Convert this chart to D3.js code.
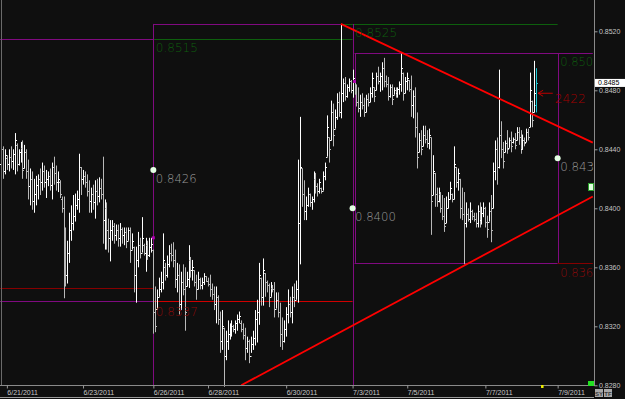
<!DOCTYPE html>
<html>
<head>
<meta charset="utf-8">
<script src="https://cdn.jsdelivr.net/npm/d3@7"></script>
<style>
  body { margin: 0; background: #0f0f0f; }
  svg { display: block; }
</style>
</head>
<body>
<svg width="625" height="399"></svg>
<script>
// bar data, one entry per bar, oldest first
var highs = [
  0.8450, 0.8442, 0.8440, 0.8436, 0.8440, 0.8442, 0.8440, 0.8451, 0.8444, 0.8440,
  0.8445, 0.8446, 0.8443, 0.8440, 0.8433, 0.8427, 0.8425, 0.8420, 0.8422, 0.8423,
  0.8427, 0.8431, 0.8429, 0.8426, 0.8425, 0.8427, 0.8431, 0.8435, 0.8429, 0.8425,
  0.8419, 0.8408, 0.8408, 0.8387, 0.8378, 0.8397, 0.8402, 0.8409, 0.8410, 0.8412,
  0.8437, 0.8428, 0.8426, 0.8425, 0.8423, 0.8419, 0.8414, 0.8416, 0.8419, 0.8420,
  0.8421, 0.8420, 0.8435, 0.8406, 0.8404, 0.8393, 0.8392, 0.8392, 0.8390, 0.8389,
  0.8389, 0.8390, 0.8387, 0.8387, 0.8387, 0.8387, 0.8387, 0.8383, 0.8374, 0.8374,
  0.8384, 0.8380, 0.8394, 0.8376, 0.8380, 0.8378, 0.8380, 0.8380, 0.8372, 0.8347,
  0.8345, 0.8353, 0.8357, 0.8383, 0.8363, 0.8368, 0.8375, 0.8376, 0.8377, 0.8372,
  0.8363, 0.8362, 0.8357, 0.8362, 0.8360, 0.8357, 0.8375, 0.8367, 0.8365, 0.8358,
  0.8355, 0.8357, 0.8353, 0.8353, 0.8356, 0.8354, 0.8353, 0.8355, 0.8349, 0.8347,
  0.8347, 0.8341, 0.8330, 0.8331, 0.8319, 0.8317, 0.8324, 0.8322, 0.8324, 0.8321,
  0.8324, 0.8328, 0.8330, 0.8324, 0.8322, 0.8319, 0.8313, 0.8311, 0.8313, 0.8317,
  0.8331, 0.8338, 0.8363, 0.8353, 0.8366, 0.8356, 0.8351, 0.8349, 0.8350, 0.8348,
  0.8350, 0.8343, 0.8343, 0.8336, 0.8326, 0.8324, 0.8333, 0.8345, 0.8340, 0.8347,
  0.8349, 0.8351, 0.8433, 0.8462, 0.8427, 0.8419, 0.8408, 0.8414, 0.8410, 0.8408,
  0.8425, 0.8424, 0.8417, 0.8420, 0.8414, 0.8425, 0.8431, 0.8463, 0.8448, 0.8473,
  0.8471, 0.8467, 0.8478, 0.8479, 0.8525, 0.8488, 0.8489, 0.8484, 0.8488, 0.8487,
  0.8494, 0.8487, 0.8484, 0.8482, 0.8477, 0.8478, 0.8475, 0.8477, 0.8478, 0.8482,
  0.8492, 0.8482, 0.8492, 0.8496, 0.8492, 0.8499, 0.8502, 0.8490, 0.8489, 0.8484,
  0.8484, 0.8482, 0.8482, 0.8482, 0.8486, 0.8505, 0.8492, 0.8489, 0.8492, 0.8487,
  0.8490, 0.8480, 0.8482, 0.8465, 0.8451, 0.8453, 0.8456, 0.8456, 0.8453, 0.8454,
  0.8448, 0.8436, 0.8424, 0.8414, 0.8414, 0.8411, 0.8409, 0.8407, 0.8408, 0.8411,
  0.8418, 0.8410, 0.8442, 0.8428, 0.8427, 0.8420, 0.8414, 0.8411, 0.8404, 0.8400,
  0.8404, 0.8399, 0.8397, 0.8397, 0.8402, 0.8404, 0.8401, 0.8404, 0.8401, 0.8395,
  0.8404, 0.8409, 0.8431, 0.8446, 0.8448, 0.8494, 0.8459, 0.8445, 0.8446, 0.8453,
  0.8448, 0.8452, 0.8448, 0.8451, 0.8455, 0.8455, 0.8453, 0.8450, 0.8448, 0.8454,
  0.8454, 0.8492, 0.8473, 0.8500, 0.8495
];
var lows = [
  0.8416, 0.8420, 0.8423, 0.8426, 0.8425, 0.8427, 0.8426, 0.8423, 0.8425, 0.8429,
  0.8431, 0.8420, 0.8427, 0.8420, 0.8406, 0.8402, 0.8399, 0.8397, 0.8402, 0.8406,
  0.8409, 0.8412, 0.8414, 0.8407, 0.8415, 0.8412, 0.8406, 0.8416, 0.8412, 0.8411,
  0.8407, 0.8397, 0.8339, 0.8347, 0.8349, 0.8363, 0.8378, 0.8385, 0.8391, 0.8399,
  0.8397, 0.8409, 0.8416, 0.8414, 0.8408, 0.8397, 0.8397, 0.8399, 0.8393, 0.8402,
  0.8404, 0.8406, 0.8376, 0.8372, 0.8372, 0.8370, 0.8364, 0.8378, 0.8376, 0.8378,
  0.8374, 0.8374, 0.8376, 0.8375, 0.8373, 0.8378, 0.8363, 0.8372, 0.8343, 0.8336,
  0.8360, 0.8366, 0.8370, 0.8368, 0.8357, 0.8365, 0.8367, 0.8370, 0.8315, 0.8316,
  0.8332, 0.8340, 0.8343, 0.8345, 0.8351, 0.8353, 0.8360, 0.8364, 0.8360, 0.8346,
  0.8343, 0.8328, 0.8331, 0.8341, 0.8317, 0.8347, 0.8346, 0.8353, 0.8351, 0.8347,
  0.8338, 0.8345, 0.8345, 0.8345, 0.8348, 0.8350, 0.8347, 0.8340, 0.8338, 0.8331,
  0.8322, 0.8321, 0.8302, 0.8304, 0.8279, 0.8297, 0.8304, 0.8311, 0.8313, 0.8316,
  0.8315, 0.8317, 0.8322, 0.8316, 0.8311, 0.8297, 0.8302, 0.8295, 0.8302, 0.8304,
  0.8307, 0.8309, 0.8321, 0.8334, 0.8334, 0.8340, 0.8343, 0.8333, 0.8340, 0.8343,
  0.8326, 0.8332, 0.8326, 0.8306, 0.8304, 0.8309, 0.8313, 0.8322, 0.8326, 0.8322,
  0.8333, 0.8338, 0.8336, 0.8362, 0.8401, 0.8392, 0.8392, 0.8401, 0.8401, 0.8399,
  0.8404, 0.8410, 0.8408, 0.8410, 0.8410, 0.8412, 0.8419, 0.8435, 0.8431, 0.8446,
  0.8442, 0.8454, 0.8460, 0.8462, 0.8461, 0.8472, 0.8473, 0.8475, 0.8479, 0.8478,
  0.8475, 0.8477, 0.8469, 0.8465, 0.8462, 0.8467, 0.8462, 0.8465, 0.8469, 0.8472,
  0.8475, 0.8472, 0.8480, 0.8484, 0.8479, 0.8480, 0.8482, 0.8482, 0.8473, 0.8475,
  0.8470, 0.8477, 0.8475, 0.8475, 0.8477, 0.8479, 0.8473, 0.8478, 0.8480, 0.8479,
  0.8462, 0.8461, 0.8448, 0.8427, 0.8438, 0.8436, 0.8442, 0.8444, 0.8441, 0.8440,
  0.8382, 0.8409, 0.8401, 0.8401, 0.8404, 0.8397, 0.8392, 0.8384, 0.8390, 0.8400,
  0.8406, 0.8404, 0.8406, 0.8414, 0.8412, 0.8393, 0.8392, 0.8362, 0.8387, 0.8391,
  0.8390, 0.8392, 0.8391, 0.8387, 0.8387, 0.8387, 0.8389, 0.8394, 0.8387, 0.8380,
  0.8391, 0.8377, 0.8400, 0.8419, 0.8416, 0.8427, 0.8434, 0.8427, 0.8438, 0.8437,
  0.8441, 0.8438, 0.8444, 0.8440, 0.8446, 0.8443, 0.8437, 0.8440, 0.8442, 0.8445,
  0.8446, 0.8455, 0.8455, 0.8465, 0.8465
];
var opens = [
  0.8430, 0.8440, 0.8425, 0.8434, 0.8430, 0.8435, 0.8432, 0.8437, 0.8443, 0.8430,
  0.8438, 0.8441, 0.8427, 0.8438, 0.8425, 0.8415, 0.8420, 0.8405, 0.8410, 0.8416,
  0.8420, 0.8418, 0.8425, 0.8418, 0.8420, 0.8422, 0.8416, 0.8428, 0.8424, 0.8418,
  0.8418, 0.8406, 0.8400, 0.8360, 0.8355, 0.8370, 0.8385, 0.8390, 0.8395, 0.8402,
  0.8406, 0.8428, 0.8420, 0.8422, 0.8418, 0.8412, 0.8405, 0.8410, 0.8404, 0.8412,
  0.8408, 0.8414, 0.8410, 0.8392, 0.8400, 0.8385, 0.8380, 0.8385, 0.8388, 0.8382,
  0.8385, 0.8380, 0.8386, 0.8382, 0.8384, 0.8378, 0.8385, 0.8372, 0.8374, 0.8355,
  0.8365, 0.8375, 0.8370, 0.8375, 0.8370, 0.8375, 0.8368, 0.8374, 0.8372, 0.8330,
  0.8332, 0.8340, 0.8345, 0.8350, 0.8360, 0.8355, 0.8362, 0.8370, 0.8368, 0.8365,
  0.8352, 0.8355, 0.8335, 0.8350, 0.8345, 0.8347, 0.8352, 0.8365, 0.8358, 0.8358,
  0.8350, 0.8345, 0.8352, 0.8348, 0.8350, 0.8354, 0.8351, 0.8349, 0.8345, 0.8342,
  0.8335, 0.8340, 0.8325, 0.8310, 0.8319, 0.8300, 0.8310, 0.8315, 0.8318, 0.8320,
  0.8318, 0.8322, 0.8325, 0.8322, 0.8318, 0.8314, 0.8305, 0.8310, 0.8300, 0.8308,
  0.8312, 0.8325, 0.8330, 0.8353, 0.8340, 0.8356, 0.8350, 0.8348, 0.8340, 0.8346,
  0.8345, 0.8332, 0.8338, 0.8330, 0.8315, 0.8310, 0.8318, 0.8328, 0.8335, 0.8330,
  0.8340, 0.8338, 0.8345, 0.8390, 0.8427, 0.8410, 0.8398, 0.8402, 0.8410, 0.8404,
  0.8406, 0.8420, 0.8415, 0.8412, 0.8414, 0.8412, 0.8422, 0.8435, 0.8448, 0.8446,
  0.8465, 0.8454, 0.8462, 0.8472, 0.8465, 0.8478, 0.8485, 0.8476, 0.8482, 0.8486,
  0.8480, 0.8487, 0.8480, 0.8472, 0.8468, 0.8472, 0.8470, 0.8465, 0.8474, 0.8472,
  0.8478, 0.8482, 0.8480, 0.8490, 0.8486, 0.8490, 0.8495, 0.8486, 0.8484, 0.8476,
  0.8482, 0.8477, 0.8480, 0.8478, 0.8481, 0.8484, 0.8492, 0.8478, 0.8486, 0.8487,
  0.8481, 0.8470, 0.8476, 0.8455, 0.8438, 0.8446, 0.8442, 0.8450, 0.8447, 0.8444,
  0.8448, 0.8409, 0.8424, 0.8410, 0.8405, 0.8410, 0.8400, 0.8395, 0.8390, 0.8400,
  0.8406, 0.8410, 0.8406, 0.8428, 0.8418, 0.8420, 0.8400, 0.8396, 0.8390, 0.8396,
  0.8393, 0.8398, 0.8395, 0.8393, 0.8390, 0.8398, 0.8392, 0.8397, 0.8400, 0.8391,
  0.8391, 0.8398, 0.8400, 0.8425, 0.8440, 0.8428, 0.8450, 0.8440, 0.8438, 0.8444,
  0.8441, 0.8446, 0.8445, 0.8447, 0.8446, 0.8452, 0.8448, 0.8440, 0.8446, 0.8445,
  0.8452, 0.8455, 0.8473, 0.8465, 0.8470
];
var closes = [
  0.8440, 0.8425, 0.8436, 0.8430, 0.8435, 0.8432, 0.8437, 0.8446, 0.8430, 0.8438,
  0.8441, 0.8426, 0.8438, 0.8425, 0.8415, 0.8420, 0.8405, 0.8410, 0.8416, 0.8420,
  0.8418, 0.8425, 0.8418, 0.8420, 0.8422, 0.8416, 0.8428, 0.8424, 0.8418, 0.8420,
  0.8410, 0.8400, 0.8360, 0.8355, 0.8370, 0.8385, 0.8390, 0.8395, 0.8402, 0.8406,
  0.8428, 0.8420, 0.8422, 0.8418, 0.8412, 0.8405, 0.8410, 0.8404, 0.8412, 0.8408,
  0.8414, 0.8410, 0.8392, 0.8400, 0.8385, 0.8380, 0.8385, 0.8388, 0.8382, 0.8385,
  0.8380, 0.8386, 0.8382, 0.8384, 0.8378, 0.8385, 0.8372, 0.8378, 0.8355, 0.8365,
  0.8375, 0.8370, 0.8380, 0.8370, 0.8375, 0.8368, 0.8374, 0.8376, 0.8330, 0.8320,
  0.8340, 0.8345, 0.8350, 0.8365, 0.8355, 0.8362, 0.8370, 0.8368, 0.8365, 0.8352,
  0.8355, 0.8335, 0.8350, 0.8345, 0.8330, 0.8352, 0.8365, 0.8358, 0.8360, 0.8350,
  0.8345, 0.8352, 0.8348, 0.8350, 0.8354, 0.8351, 0.8349, 0.8345, 0.8342, 0.8335,
  0.8340, 0.8325, 0.8310, 0.8320, 0.8300, 0.8310, 0.8315, 0.8318, 0.8320, 0.8318,
  0.8322, 0.8325, 0.8327, 0.8318, 0.8314, 0.8305, 0.8310, 0.8300, 0.8308, 0.8312,
  0.8325, 0.8330, 0.8355, 0.8340, 0.8358, 0.8350, 0.8348, 0.8340, 0.8346, 0.8345,
  0.8332, 0.8338, 0.8330, 0.8315, 0.8310, 0.8318, 0.8328, 0.8335, 0.8330, 0.8340,
  0.8338, 0.8345, 0.8390, 0.8428, 0.8410, 0.8398, 0.8402, 0.8410, 0.8404, 0.8406,
  0.8420, 0.8415, 0.8412, 0.8418, 0.8412, 0.8422, 0.8428, 0.8455, 0.8440, 0.8465,
  0.8450, 0.8462, 0.8472, 0.8465, 0.8478, 0.8485, 0.8476, 0.8482, 0.8486, 0.8480,
  0.8488, 0.8480, 0.8472, 0.8468, 0.8472, 0.8470, 0.8465, 0.8474, 0.8472, 0.8478,
  0.8488, 0.8476, 0.8490, 0.8486, 0.8490, 0.8495, 0.8486, 0.8484, 0.8476, 0.8482,
  0.8474, 0.8480, 0.8478, 0.8481, 0.8484, 0.8495, 0.8478, 0.8486, 0.8488, 0.8481,
  0.8470, 0.8476, 0.8455, 0.8435, 0.8446, 0.8440, 0.8450, 0.8447, 0.8444, 0.8450,
  0.8405, 0.8425, 0.8410, 0.8405, 0.8410, 0.8400, 0.8395, 0.8388, 0.8400, 0.8406,
  0.8414, 0.8406, 0.8430, 0.8418, 0.8424, 0.8400, 0.8396, 0.8390, 0.8396, 0.8393,
  0.8398, 0.8395, 0.8393, 0.8390, 0.8398, 0.8392, 0.8397, 0.8400, 0.8391, 0.8386,
  0.8398, 0.8385, 0.8425, 0.8440, 0.8428, 0.8450, 0.8440, 0.8432, 0.8444, 0.8440,
  0.8446, 0.8442, 0.8447, 0.8443, 0.8452, 0.8448, 0.8440, 0.8446, 0.8444, 0.8452,
  0.8448, 0.8480, 0.8460, 0.8478, 0.8485
];

// axis labels
var priceTicks = [0.8280, 0.8320, 0.8360, 0.8400, 0.8440, 0.8480, 0.8520];
var dateLabels = ["6/21/2011", "6/23/2011", "6/26/2011", "6/28/2011", "6/30/2011",
                  "7/3/2011", "7/5/2011", "7/7/2011", "7/9/2011"];
var dateBars = [3, 42, 78, 106, 146, 180, 208, 248, 285];
var lastPrice = 0.8485;

// drawing objects (bar index, price)
var trendDown = [[174, 0.8525], [303, 0.84445]];
var trendUp = [[123, 0.8280], [303, 0.8408]];
var dotBars = [78, 180, 285];
var dotPrices = [0.8426, 0.8400, 0.8434];
var dotTexts = ["0.8426", "0.8400", "0.843"];

var svg = d3.select("svg"),
    width = +svg.attr("width"),
    height = +svg.attr("height"),
    plotRight = 594,
    plotBottom = 386;

var x = d3.scaleLinear().domain([0, 303]).range([1, 592.8]);
var y = d3.scaleLinear().domain([0.8280, 0.8520]).range([385.3, 31.3]);
var bottomPrice = y.invert(plotBottom);

var purple = "#800a80", green = "#0d5f0d", darkRed = "#860000", red = "#d00000";

svg.append("rect").attr("width", width).attr("height", height).attr("fill", "#0f0f0f");

var g = svg.append("g");

function hline(price, i0, i1, color) {
  var yy = Math.round(y(price)) + 0.5;
  g.append("line")
    .attr("x1", x(i0)).attr("x2", x(i1))
    .attr("y1", yy).attr("y2", yy)
    .attr("stroke", color).attr("stroke-width", 1);
}
function vline(i, p0, p1, color) {
  var xx = Math.round(x(i)) + 0.5;
  g.append("line")
    .attr("x1", xx).attr("x2", xx)
    .attr("y1", y(p0)).attr("y2", y(p1))
    .attr("stroke", color).attr("stroke-width", 1);
}

// levels and boxes
hline(0.8515, -1, 78, purple);
hline(0.8515, 78, 180, green);
hline(0.8525, 78, 174, purple);
hline(0.8525, 174, 285, green);
hline(0.8346, -1, 78, darkRed);
hline(0.8337, -1, 78, purple);
hline(0.8337, 78, 180, red);
vline(78, 0.8525, bottomPrice, purple);
vline(180, 0.8525, bottomPrice, purple);
hline(0.8505, 181, 303, purple);
hline(0.8363, 181, 285, purple);
hline(0.8363, 285, 303, darkRed);
vline(181, 0.8505, 0.8363, purple);
vline(285, 0.8505, 0.8363, purple);

// OHLC bars
var bars = svg.append("g");
bars.selectAll("path")
  .data(d3.range(highs.length))
  .enter().append("path")
    .attr("d", function (i) {
      var xx = Math.round(x(i)) + 0.5;
      return "M" + xx + "," + y(highs[i]) + "V" + y(lows[i]) +
        "M" + (xx - 1.5) + "," + Math.round(y(opens[i])) + ".5H" + xx +
        "M" + xx + "," + Math.round(y(closes[i])) + ".5H" + (xx + 1.5);
    })
    .attr("fill", "none")
    .attr("stroke-width", 1)
    .attr("stroke", function (i) {
      if (i == highs.length - 1) return "#1cc8d4";
      return closes[i] >= opens[i] ? "#ffffff" : "#b8b8b8";
    });

// trend lines
[trendDown, trendUp].forEach(function (t) {
  svg.append("line")
    .attr("x1", x(t[0][0])).attr("y1", y(t[0][1]))
    .attr("x2", x(t[1][0])).attr("y2", y(t[1][1]))
    .attr("stroke", "#ff0000").attr("stroke-width", 1.8);
});

// small markers
svg.append("rect").attr("x", x(78) - 1.5).attr("y", y(0.8380) - 1.5)
  .attr("width", 3).attr("height", 3).attr("fill", "#b000b0");
svg.append("rect").attr("x", x(181) - 1.5).attr("y", y(0.8486) - 1.5)
  .attr("width", 3).attr("height", 3).attr("fill", "#b000b0");

// dots + labels
var labelFont = "DejaVu Sans";
function label(txt, i, price, color, len) {
  svg.append("text")
    .attr("x", x(i) + 2.5).attr("y", y(price) + 13)
    .attr("fill", color)
    .style("font-family", labelFont).style("font-size", "13px")
    .style("font-weight", 200)
    .attr("textLength", len).attr("lengthAdjust", "spacingAndGlyphs")
    .text(txt);
}
dotBars.forEach(function (b, k) {
  svg.append("circle").attr("cx", x(b)).attr("cy", y(dotPrices[k]))
    .attr("r", 3).attr("fill", "#e4ffe4");
  label(dotTexts[k], b, dotPrices[k], "#9a9a9a", dotTexts[k].length * 6.8);
});
label("0.8515", 78, 0.8515, "#0e5c0e", 42);
label("0.8525", 180, 0.8525, "#0e5c0e", 42);
label("0.8337", 78, 0.8336, "#8a0a0a", 42);
label("0.850", 285, 0.8505, "#0e5c0e", 33);
label("0.836", 285, 0.8362, "#8a0a0a", 33);

// volume-ish tag with arrow
svg.append("path")
  .attr("d", "M" + x(282.5) + "," + y(0.8478) + "H" + x(275) +
    "M" + (x(275) + 5) + "," + (y(0.8478) - 3) + "L" + x(275) + "," + y(0.8478) +
    "L" + (x(275) + 5) + "," + (y(0.8478) + 3))
  .attr("fill", "none").attr("stroke", "#c00000").attr("stroke-width", 1);
svg.append("text")
  .attr("x", x(283.5)).attr("y", y(0.8478) + 10)
  .attr("fill", "#a00000")
  .style("font-family", labelFont).style("font-size", "13px").style("font-weight", 200)
  .attr("textLength", 31).attr("lengthAdjust", "spacingAndGlyphs")
  .text("2422");

// frame lines
svg.append("line").attr("x1", 1.5).attr("x2", 1.5).attr("y1", 0).attr("y2", plotBottom)
  .attr("stroke", "#6a6a6a");
svg.append("line").attr("x1", 0).attr("x2", plotRight).attr("y1", 397.5).attr("y2", 397.5)
  .attr("stroke", "#9a9a9a");

// price axis
var yAxis = svg.append("g")
  .attr("transform", "translate(" + (plotRight + 0.5) + ",0)")
  .call(d3.axisRight(y).tickValues(priceTicks).tickSize(3).tickPadding(1.5)
    .tickFormat(d3.format(".4f")));
yAxis.select(".domain").attr("stroke", "#8a8a8a").attr("d", "M0,0V" + plotBottom);
yAxis.selectAll(".tick line").attr("stroke", "#9a9a9a");
yAxis.selectAll("text").attr("fill", "#c4c4c4")
  .style("font-family", "Liberation Sans").style("font-size", "7px");

// last price box
svg.append("rect")
  .attr("x", plotRight + 1).attr("y", y(lastPrice) - 4)
  .attr("width", width - plotRight - 1).attr("height", 8)
  .attr("fill", "#ffffff");
svg.append("text")
  .attr("x", plotRight + 4).attr("y", y(lastPrice) + 2.5)
  .attr("fill", "#000000")
  .style("font-family", "Liberation Sans").style("font-size", "7px")
  .text(d3.format(".4f")(lastPrice));

// date axis
var xAxis = svg.append("g")
  .attr("transform", "translate(0," + (plotBottom - 0.5) + ")")
  .call(d3.axisBottom(x).tickValues(dateBars).tickSize(3).tickPadding(2)
    .tickFormat(function (d, k) { return dateLabels[k]; }));
xAxis.select(".domain").attr("stroke", "#8a8a8a").attr("d", "M0,0H" + plotRight);
xAxis.selectAll(".tick line").attr("stroke", "#9a9a9a");
xAxis.selectAll("text").attr("fill", "#c8c8c8").attr("text-anchor", "start").attr("dx", 0)
  .style("font-family", "Liberation Sans").style("font-size", "7px");

// corner bits
svg.append("rect").attr("x", 588).attr("y", 381).attr("width", 6).attr("height", 5).attr("fill", "#22e022");
svg.append("rect").attr("x", x(276.5)).attr("y", plotBottom - 1).attr("width", 2.5).attr("height", 3).attr("fill", "#f0f000");
svg.append("rect").attr("x", 588.5).attr("y", 183.5).attr("width", 5).attr("height", 7)
  .attr("fill", "#dfffdf").attr("stroke", "#2aa02a");
[["SY", 595], ["TF", 604]].forEach(function (b) {
  svg.append("rect").attr("x", b[1]).attr("y", 389).attr("width", 8).attr("height", 8).attr("fill", "#a8a8a8");
  svg.append("text").attr("x", b[1] + 4).attr("y", 395.5).attr("text-anchor", "middle")
    .attr("fill", "#3a3a3a").style("font-family", "Liberation Sans").style("font-size", "6px")
    .style("font-weight", "bold").text(b[0]);
});
</script>
</body>
</html>
